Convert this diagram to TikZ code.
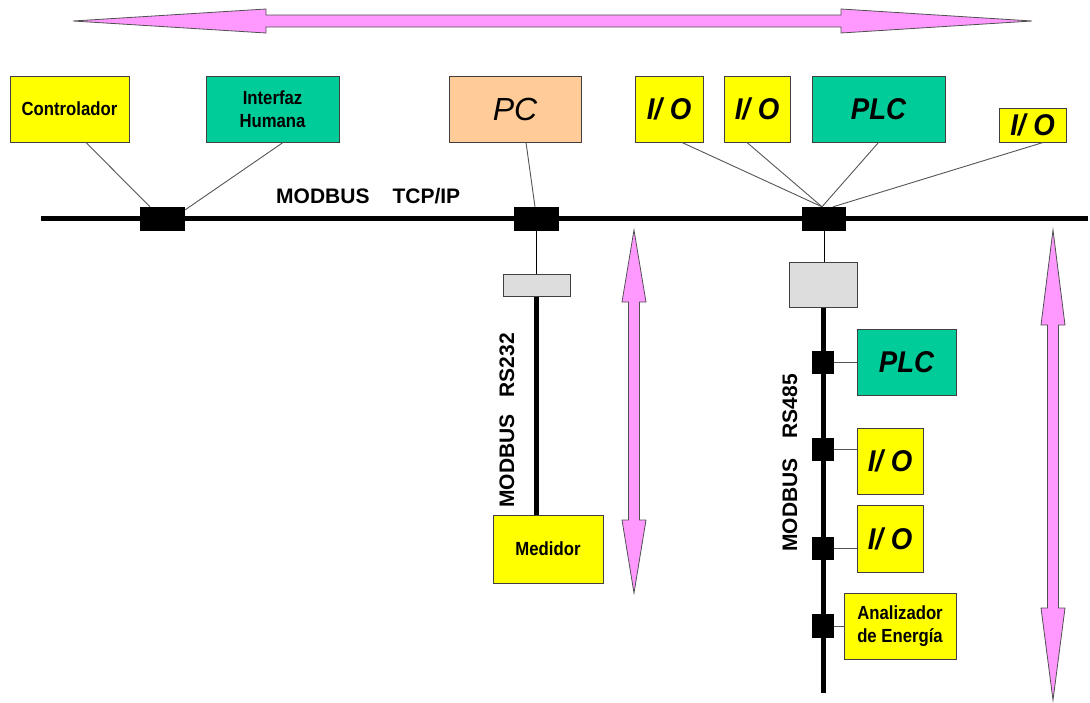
\documentclass[tikz,border=0pt]{standalone}
\usepackage{fontspec}
\setmainfont{Liberation Sans}
\newfontfamily\narrowfont[FakeStretch=0.88]{Liberation Sans}
\newfontfamily\bigfont[FakeStretch=0.92]{Liberation Sans}
\definecolor{ylw}{HTML}{FFFF00}
\definecolor{teal}{HTML}{00CC99}
\definecolor{peach}{HTML}{FFCC99}
\definecolor{convgray}{HTML}{DDDDDD}
\definecolor{pinkc}{HTML}{FF99FF}
\definecolor{bordergray}{HTML}{404040}
\definecolor{wiregray}{HTML}{555555}
\definecolor{arrowedge}{HTML}{505050}
\begin{document}
\begin{tikzpicture}[x=1pt,y=-1pt,
  dev/.style={draw=bordergray, line width=1pt, inner sep=0pt, align=center, text=black},
  lbl/.style={font=\narrowfont\bfseries\fontsize{19}{23}\selectfont},
  bigtxt/.style={font=\bigfont\bfseries\itshape\fontsize{30}{30}\selectfont},
  pctxt/.style={font=\itshape\fontsize{32}{32}\selectfont},
  blk/.style={fill=black, draw=none, inner sep=0pt},
  conv/.style={draw=bordergray, fill=convgray, line width=1pt, inner sep=0pt},
  wire/.style={draw=wiregray, line width=0.9pt},
  thinblack/.style={draw=black, line width=0.9pt},
  busline/.style={draw=black, line width=5pt},
  pinkarrow/.style={fill=pinkc, draw=arrowedge, line width=0.8pt, line join=miter},
  buslbl/.style={font=\bfseries\fontsize{21}{21}\selectfont, inner sep=0pt}
]
\useasboundingbox (0,0) rectangle (1090,702);

% pink double arrows
\draw[pinkarrow] (73,21) -- (266,9) -- (266,15) -- (841,15) -- (841,9) -- (1032,21)
  -- (841,33) -- (841,27) -- (266,27) -- (266,33) -- cycle;
\draw[pinkarrow] (634,230) -- (646,302) -- (639.5,302) -- (639.5,520) -- (646,520) -- (634,593)
  -- (622,520) -- (628.5,520) -- (628.5,302) -- (622,302) -- cycle;
\draw[pinkarrow] (1053,230) -- (1065,325) -- (1058.5,325) -- (1058.5,608) -- (1065,608) -- (1053,700)
  -- (1041,608) -- (1047.5,608) -- (1047.5,325) -- (1041,325) -- cycle;

% devices on TCP/IP
\node[dev, fill=ylw, lbl, minimum width=119pt, minimum height=66pt] (ctrl) at (69.5,109) {Controlador};
\node[dev, fill=teal, lbl, minimum width=133pt, minimum height=66pt] (hmi) at (272.5,109) {Interfaz\\Humana};
\node[dev, fill=peach, pctxt, minimum width=132pt, minimum height=66pt] (pc) at (515,109) {PC};
\node[dev, fill=ylw, bigtxt, minimum width=68pt, minimum height=66pt] (io1) at (669,109) {I/ O};
\node[dev, fill=ylw, bigtxt, minimum width=66pt, minimum height=66pt] (io2) at (757,109) {I/ O};
\node[dev, fill=teal, bigtxt, minimum width=133pt, minimum height=66pt] (plc1) at (878.5,109) {PLC};
\node[dev, fill=ylw, bigtxt, minimum width=67pt, minimum height=34pt] (io0) at (1032.5,125) {I/ O};

% TCP/IP bus
\coordinate (busL) at (41,218.5);
\coordinate (busR) at (1088,218.5);
\draw[busline] (busL) -- (busR);
\node[blk, minimum width=45pt, minimum height=24pt] (b1) at (162.5,219) {};
\node[blk, minimum width=45pt, minimum height=24pt] (b2) at (536.5,219) {};
\node[blk, minimum width=44pt, minimum height=24pt] (b3) at (824,219) {};
\node[buslbl, anchor=base west] (tcp) at (276,203) {MODBUS\hspace{23pt}TCP/IP};

% wires to TCP/IP blocks
\draw[wire] ([xshift=16.5pt]ctrl.south) -- ([xshift=-12.5pt]b1.north);
\draw[wire] ([xshift=10.5pt]hmi.south) -- ([yshift=-3pt]b1.north east);
\draw[wire] ([xshift=11pt]pc.south) -- ([xshift=-1.5pt]b2.north);
\draw[wire] ([xshift=13pt]io1.south) -- ([xshift=-2pt]b3.north);
\draw[wire] ([xshift=-10pt]io2.south) -- ([xshift=-2pt]b3.north);
\draw[wire] (plc1.south) -- ([xshift=-2pt]b3.north);
\draw[wire] ([xshift=10.5pt]io0.south) -- ([xshift=9pt]b3.north);

% RS232 branch
\node[conv, minimum width=67pt, minimum height=22pt] (g1) at (536.5,285) {};
\node[dev, fill=ylw, lbl, minimum width=110pt, minimum height=68pt] (med) at (548,549) {Medidor};
\draw[thinblack] (b2.south) -- (g1.north);
\draw[draw=black, line width=4.5pt] (g1.south) -- (g1.south |- med.north);
\node[buslbl, rotate=90, anchor=base west] (rs232) at (514,508) {MODBUS\hspace{17pt}RS232};

% RS485 branch
\node[conv, minimum width=68pt, minimum height=45pt] (g2) at (823,284.5) {};
\coordinate (rsend) at (823,693);
\draw[thinblack] (b3.south) -- (b3.south |- g2.north);
\draw[busline] (g2.south) -- (rsend);
\node[buslbl, rotate=90, anchor=base west] (rs485) at (797,552) {MODBUS\hspace{20pt}RS485};

\node[blk, minimum width=22pt, minimum height=23pt] (s1) at (823,362.5) {};
\node[blk, minimum width=22pt, minimum height=23pt] (s2) at (823,449.5) {};
\node[blk, minimum width=22pt, minimum height=23pt] (s3) at (823,548.5) {};
\node[blk, minimum width=22pt, minimum height=24pt] (s4) at (823,626) {};

\node[dev, fill=teal, bigtxt, minimum width=99pt, minimum height=66pt] (plc2) at (906.5,362) {PLC};
\node[dev, fill=ylw, bigtxt, minimum width=66pt, minimum height=66pt] (io3) at (890,461) {I/ O};
\node[dev, fill=ylw, bigtxt, minimum width=66pt, minimum height=67pt] (io4) at (890,538.5) {I/ O};
\node[dev, fill=ylw, lbl, minimum width=112pt, minimum height=66pt] (ana) at (900,626) {Analizador\\de Energía};

\draw[wire] (s1.east) -- (s1.east -| plc2.west);
\draw[wire] (s2.east) -- (s2.east -| io3.west);
\draw[wire] (s3.east) -- (s3.east -| io4.west);
\draw[wire] (s4.east) -- (s4.east -| ana.west);
\end{tikzpicture}
\end{document}
